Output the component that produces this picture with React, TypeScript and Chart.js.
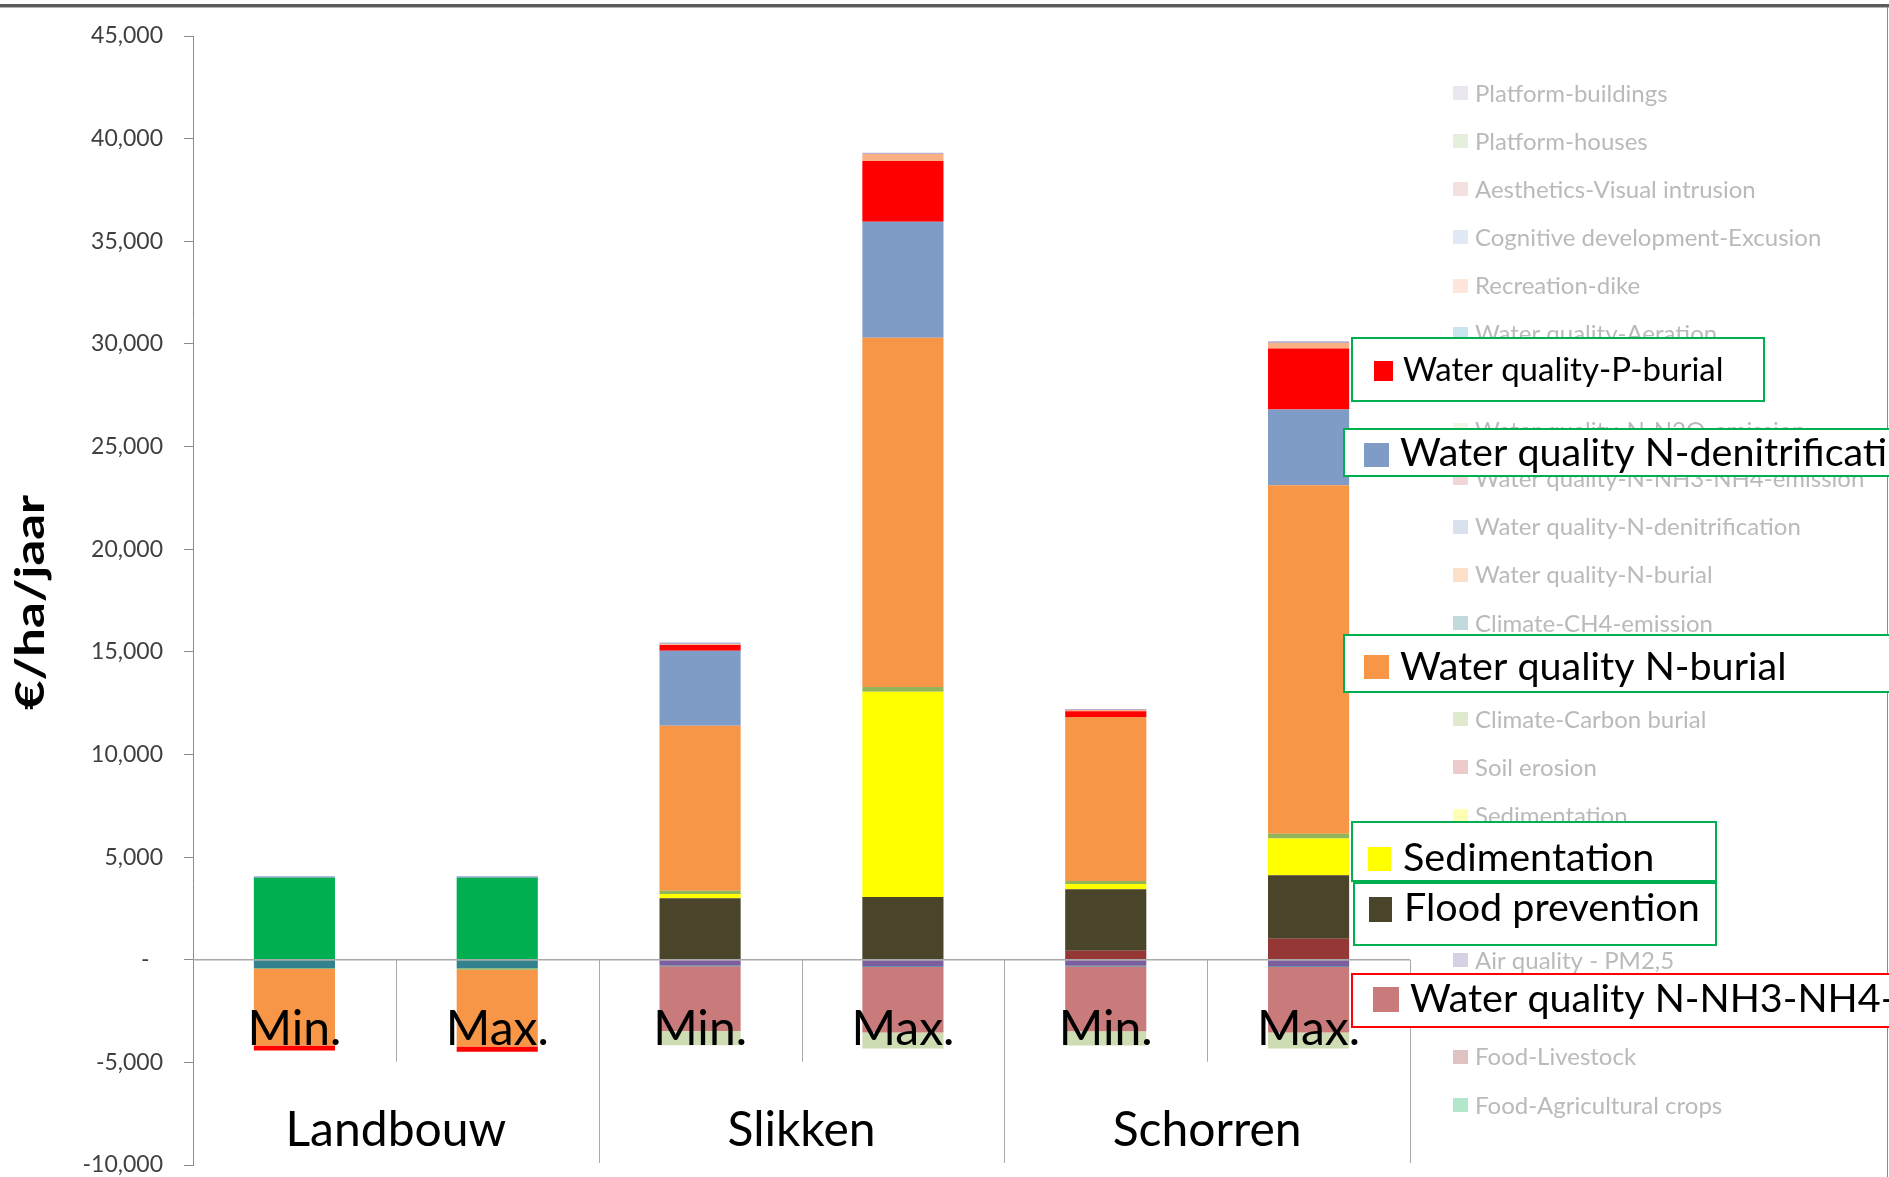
import React, { useEffect, useRef } from "react";
import { Chart, registerables } from "chart.js";

Chart.register(...registerables);

// ---- data -------------------------------------------------------------
const categories = ["Min.", "Max.", "Min.", "Max.", "Min.", "Max."];
const groups = ["Landbouw", "Slikken", "Schorren"];
const yMin = -10000;
const yMax = 45000;
const yStep = 5000;

// ecosystem service values in €/ha/jaar, per bar (Landbouw, Slikken, Schorren × Min/Max)
const foodAgriculturalCrops = [3990, 3990, 0, 0, 0, 0];
const foodLivestock = [0, 0, 0, 0, 440, 1020];
const airQualityPM25 = [0, 0, -280, -320, -290, -320];
const climateCH4Emission = [-420, -420, -40, -40, -40, -40];
const floodPrevention = [0, 0, 3000, 3050, 2990, 3090];
const sedimentation = [0, 0, 200, 10000, 260, 1800];
const climateCarbonBurial = [-30, -70, 160, 240, 150, 230];
const waterQualityNBurial = [-3730, -3740, 8040, 17010, 7980, 16980];
const waterQualityNDenitrification = [70, 70, 3650, 5650, 0, 3690];
const waterQualityNH3NH4Emission = [0, 0, -3150, -3180, -3150, -3180];
const waterQualityN2OEmission = [0, 0, -700, -780, -700, -780];
const waterQualityPBurial = [-240, -250, 280, 2960, 280, 2970];
const recreationDike = [0, 0, 40, 340, 60, 270];
const soilErosion = [0, 0, 0, 0, 0, 0];
const waterQualityAeration = [0, 0, 0, 0, 0, 0];
const cognitiveDevelopment = [0, 0, 0, 0, 0, 0];
const aestheticsVisualIntrusion = [0, 0, 0, 0, 0, 0];
const platformHouses = [0, 0, 0, 0, 0, 0];
const platformBuildings = [20, 20, 80, 60, 60, 80];

// stacking order: first entry sits closest to the zero line
const series = [
  { label: "Food-Agricultural crops", data: foodAgriculturalCrops },
  { label: "Food-Livestock", data: foodLivestock },
  { label: "Air quality - PM2,5", data: airQualityPM25 },
  { label: "Climate-CH4-emission", data: climateCH4Emission },
  { label: "Flood prevention", data: floodPrevention },
  { label: "Sedimentation", data: sedimentation },
  { label: "Climate-Carbon burial", data: climateCarbonBurial },
  { label: "Water quality-N-burial", data: waterQualityNBurial },
  { label: "Water quality-N-denitrification", data: waterQualityNDenitrification },
  { label: "Water quality-N-NH3-NH4-emission", data: waterQualityNH3NH4Emission },
  { label: "Water quality-N-N2O-emission", data: waterQualityN2OEmission },
  { label: "Water quality-P-burial", data: waterQualityPBurial },
  { label: "Soil erosion", data: soilErosion },
  { label: "Water quality-Aeration", data: waterQualityAeration },
  { label: "Recreation-dike", data: recreationDike },
  { label: "Cognitive development-Excusion", data: cognitiveDevelopment },
  { label: "Aesthetics-Visual intrusion", data: aestheticsVisualIntrusion },
  { label: "Platform-houses", data: platformHouses },
  { label: "Platform-buildings", data: platformBuildings },
];

// legend rows, top to bottom (null rows sit under the callout boxes)
const legendOrder: (string | null)[] = [
  "Platform-buildings",
  "Platform-houses",
  "Aesthetics-Visual intrusion",
  "Cognitive development-Excusion",
  "Recreation-dike",
  "Water quality-Aeration",
  "Water quality-P-burial",
  "Water quality-N-N2O-emission",
  "Water quality-N-NH3-NH4-emission",
  "Water quality-N-denitrification",
  "Water quality-N-burial",
  "Climate-CH4-emission",
  null,
  "Climate-Carbon burial",
  "Soil erosion",
  "Sedimentation",
  null,
  "Flood prevention",
  "Air quality - PM2,5",
  null,
  "Food-Livestock",
  "Food-Agricultural crops",
];

// ---- styling ----------------------------------------------------------
const FONT = "Lato, 'Open Sans', sans-serif";

const colors: Record<string, string> = {
  "Food-Agricultural crops": "#00B050",
  "Food-Livestock": "#953735",
  "Air quality - PM2,5": "#7B5E9E",
  "Climate-CH4-emission": "#33818F",
  "Flood prevention": "#4A442A",
  "Sedimentation": "#FFFF00",
  "Climate-Carbon burial": "#93B55A",
  "Water quality-N-burial": "#F79646",
  "Water quality-N-denitrification": "#7F9CC7",
  "Water quality-N-NH3-NH4-emission": "#C97B7B",
  "Water quality-N-N2O-emission": "#CDDCB2",
  "Water quality-P-burial": "#FF0000",
  "Soil erosion": "#C0504D",
  "Water quality-Aeration": "#4BACC6",
  "Recreation-dike": "#FAB085",
  "Cognitive development-Excusion": "#95B3D7",
  "Aesthetics-Visual intrusion": "#D99694",
  "Platform-houses": "#A9C98A",
  "Platform-buildings": "#B9AFCF",
};

// highlighted legend entries drawn as framed call-outs next to the bars
const callouts = [
  { series: "Water quality-P-burial", text: "Water quality-P-burial", frame: "#00B050", box: [1351, 337, 414, 65], swatch: [1374, 361, 19, 20], tx: 1403, ty: 381, size: 33 },
  { series: "Water quality-N-denitrification", text: "Water quality N-denitrification", frame: "#00B050", box: [1343, 428, 600, 49], swatch: [1364, 443, 25, 24], tx: 1400, ty: 466, size: 39.5 },
  { series: "Water quality-N-burial", text: "Water quality N-burial", frame: "#00B050", box: [1343, 634, 600, 59], swatch: [1364, 655, 25, 24], tx: 1400, ty: 680, size: 39.5 },
  { series: "Sedimentation", text: "Sedimentation", frame: "#00B050", box: [1351, 821, 366, 61], swatch: [1368, 847, 23, 24], tx: 1403, ty: 871, size: 39.5 },
  { series: "Flood prevention", text: "Flood prevention", frame: "#00B050", box: [1353, 882, 364, 64], swatch: [1369, 897, 23, 25], tx: 1404, ty: 921, size: 39.5 },
  { series: "Water quality-N-NH3-NH4-emission", text: "Water quality N-NH3-NH4-emission", frame: "#FF0000", box: [1351, 973, 600, 55], swatch: [1373, 987, 26, 25], tx: 1410, ty: 1012, size: 39.5 },
];

function fade(hex: string, keep = 0.3): string {
  const n = parseInt(hex.slice(1), 16);
  const r = (n >> 16) & 255, g = (n >> 8) & 255, b = n & 255;
  const m = (c: number) => Math.round(c * keep + 255 * (1 - keep));
  return `rgb(${m(r)},${m(g)},${m(b)})`;
}

function formatTick(v: number): string {
  if (v === 0) return "-\u2007";
  return v.toLocaleString("en-US");
}

const W = 1889;
const H = 1177;
const AXIS_LEFT = 193;
const PLOT_RIGHT = 1410;
const PLOT_TOP = 36;
const PLOT_BOTTOM = 1165;

const decorations = {
  id: "decorations",
  afterDatasetsDraw(chart: any) {
    const { ctx, chartArea, scales } = chart;
    const x = scales.x;
    const y = scales.y;
    const y0 = y.getPixelForValue(0);
    const slot = x.getPixelForValue(1) - x.getPixelForValue(0);
    ctx.save();

    // horizontal category axis at zero
    ctx.strokeStyle = "#a8a8a8";
    ctx.lineWidth = 1.5;
    ctx.beginPath();
    ctx.moveTo(chartArea.left, y0);
    ctx.lineTo(chartArea.right, y0);
    ctx.stroke();

    // category separators: short between Min/Max, long between groups
    ctx.lineWidth = 1;
    categories.forEach((_, i) => {
      const bx = Math.round(x.getPixelForValue(i) + slot / 2) + 0.5;
      const end = i % 2 === 1 ? chartArea.bottom - 2 : y0 + 102;
      ctx.beginPath();
      ctx.moveTo(bx, y0);
      ctx.lineTo(bx, end);
      ctx.stroke();
    });
    ctx.restore();
  },
  afterDraw(chart: any) {
    const { ctx, scales } = chart;
    const x = scales.x;
    const y0 = scales.y.getPixelForValue(0);
    ctx.save();

    // outer frame (top and right edges)
    ctx.fillStyle = "#5c5c5c";
    ctx.fillRect(0, 4, W, 3);
    ctx.fillStyle = "#b4b4b4";
    ctx.fillRect(0, 7, W, 1);
    ctx.fillStyle = "#8a8a8a";
    ctx.fillRect(W - 2, 7, 1, H - 7);

    // faded legend
    const top = 92.8;
    const step = 48.19;
    ctx.textAlign = "left";
    ctx.textBaseline = "middle";
    ctx.font = `24px ${FONT}`;
    legendOrder.forEach((name, k) => {
      if (!name) return;
      const cy = top + k * step;
      ctx.fillStyle = fade(colors[name], 0.3);
      ctx.fillRect(1453, Math.round(cy - 7), 15, 14);
      ctx.fillStyle = "#bababa";
      ctx.fillText(name, 1475, cy + 1);
    });

    // highlighted entries
    ctx.textBaseline = "alphabetic";
    callouts.forEach((c) => {
      const [bx, by, bw, bh] = c.box;
      ctx.fillStyle = "#ffffff";
      ctx.fillRect(bx, by, bw, bh);
      ctx.strokeStyle = c.frame;
      ctx.lineWidth = 2;
      ctx.strokeRect(bx + 1, by + 1, bw - 2, bh - 2);
      const [sx, sy, sw, sh] = c.swatch;
      ctx.fillStyle = colors[c.series];
      ctx.fillRect(sx, sy, sw, sh);
      ctx.fillStyle = "#000";
      ctx.font = `${c.size}px ${FONT}`;
      ctx.fillText(c.text, c.tx, c.ty);
    });

    // category labels (drawn over bars and call-outs)
    ctx.fillStyle = "#000";
    ctx.textAlign = "center";
    ctx.textBaseline = "alphabetic";
    ctx.font = `48px ${FONT}`;
    categories.forEach((c, i) => ctx.fillText(c, x.getPixelForValue(i), y0 + 85));
    ctx.font = `48px ${FONT}`;
    groups.forEach((g, gi) => {
      const cx = (x.getPixelForValue(gi * 2) + x.getPixelForValue(gi * 2 + 1)) / 2;
      ctx.fillText(g, cx, y0 + 186);
    });

    // vertical axis title
    const title = "€/ha/jaar";
    ctx.translate(44, 602.5);
    ctx.rotate(-Math.PI / 2);
    ctx.font = `bold 41px ${FONT}`;
    const tw = ctx.measureText(title).width;
    ctx.scale(215 / tw, 1);
    ctx.textAlign = "center";
    ctx.fillStyle = "#000";
    ctx.fillText(title, 0, 0);
    ctx.restore();
  },
};

export default function App() {
  const canvasRef = useRef<HTMLCanvasElement | null>(null);

  useEffect(() => {
    const canvas = canvasRef.current;
    if (!canvas) return;
    const chart = new Chart(canvas, {
      type: "bar",
      data: {
        labels: categories,
        datasets: series.map((s) => ({
          label: s.label,
          data: s.data,
          backgroundColor: colors[s.label],
          borderWidth: 0,
          barPercentage: 0.4,
          categoryPercentage: 1,
        })),
      },
      options: {
        responsive: false,
        animation: false,
        events: [],
        layout: { padding: { left: 0, right: W - PLOT_RIGHT, top: PLOT_TOP, bottom: H - PLOT_BOTTOM } },
        plugins: {
          legend: { display: false },
          tooltip: { enabled: false },
          title: { display: false },
        },
        scales: {
          x: { type: "category", stacked: true, display: false, offset: true },
          y: {
            stacked: true,
            min: yMin,
            max: yMax,
            afterFit: (scale: any) => {
              scale.width = AXIS_LEFT;
              scale.paddingTop = 0;
              scale.paddingBottom = 0;
            },
            ticks: {
              stepSize: yStep,
              padding: 21,
              color: "#404040",
              font: { family: FONT, size: 23, lineHeight: 1 },
              callback: (v: any) => formatTick(Number(v)),
            },
            grid: {
              drawOnChartArea: false,
              drawTicks: true,
              tickLength: 9,
              color: "#8c8c8c",
              lineWidth: 1,
            },
            border: { display: true, color: "#8c8c8c", width: 1 },
          },
        },
      },
      plugins: [decorations],
    } as any);
    return () => chart.destroy();
  }, []);

  return (
    <div style={{ position: "absolute", left: 0, top: 0, width: W, height: H, background: "#ffffff" }}>
      <canvas ref={canvasRef} width={W} height={H} style={{ display: "block", width: W, height: H }} />
    </div>
  );
}
